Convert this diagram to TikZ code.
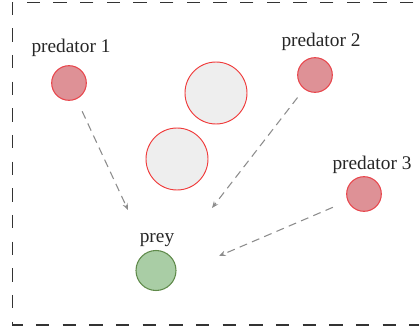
\documentclass[tikz,border=0pt]{standalone}
\usepackage{fontspec}
\setmainfont{Liberation Serif}
\usetikzlibrary{arrows.meta}
\definecolor{predfill}{HTML}{DE9196}
\definecolor{predline}{HTML}{E8474D}
\definecolor{obsfill}{HTML}{EEEEEE}
\definecolor{obsline}{HTML}{F03A3A}
\definecolor{preyfill}{HTML}{A9CDA5}
\definecolor{preyline}{HTML}{5F8A4A}
\definecolor{chase}{HTML}{8C8C8C}
\definecolor{frame}{HTML}{333333}
\tikzset{
  predator/.style={circle, draw=predline, fill=predfill, line width=0.8pt, minimum size=26pt, inner sep=0pt},
  obstacle/.style={circle, draw=obsline, fill=obsfill, line width=0.7pt, minimum size=46.5pt, inner sep=0pt},
  preynode/.style={circle, draw=preyline, fill=preyfill, line width=0.8pt, minimum size=30pt, inner sep=0pt},
  tag/.style={font=\fontsize{14.5}{17}\selectfont, text=black!85, inner sep=0pt},
  pursuit/.style={draw=chase, line width=0.8pt, dash pattern=on 6pt off 4pt, -{Stealth[length=5pt,width=4pt]}},
  arena/.style={draw=frame, line width=1.1pt, dash pattern=on 10pt off 10pt}
}
\begin{document}
\begin{tikzpicture}[x=0.75pt,y=-0.75pt]
\useasboundingbox (0,0) rectangle (419,328);
% arena boundary, open past the right edge
\draw[arena] (440,2.5) -- (12.5,2.5) -- (12.5,325) -- (440,325);

% obstacles
\node[obstacle] (obsA) at (216,93) {};
\node[obstacle] (obsB) at (177,159) {};

% predators
\node[predator] (p1) at (69,83) {};
\node[predator] (p2) at (315,75) {};
\node[predator] (p3) at (364,194) {};
\node[tag] (l1) at (71,48) {predator 1};
\node[tag] (l2) at (321,42) {predator 2};
\node[tag] (l3) at (372,165) {predator 3};

% prey
\node[preynode] (prey) at (156,270.5) {};
\node[tag] (lprey) at (157,240) {prey};

% pursuit directions
\coordinate (t1) at (128,210);
\coordinate (t2) at (212,208);
\coordinate (t3) at (219,256);
\draw[pursuit, shorten <=10pt] (p1) -- (t1);
\draw[pursuit, shorten <=8pt] (p2) -- (t2);
\draw[pursuit, shorten <=12pt] (p3) -- (t3);
\end{tikzpicture}
\end{document}
